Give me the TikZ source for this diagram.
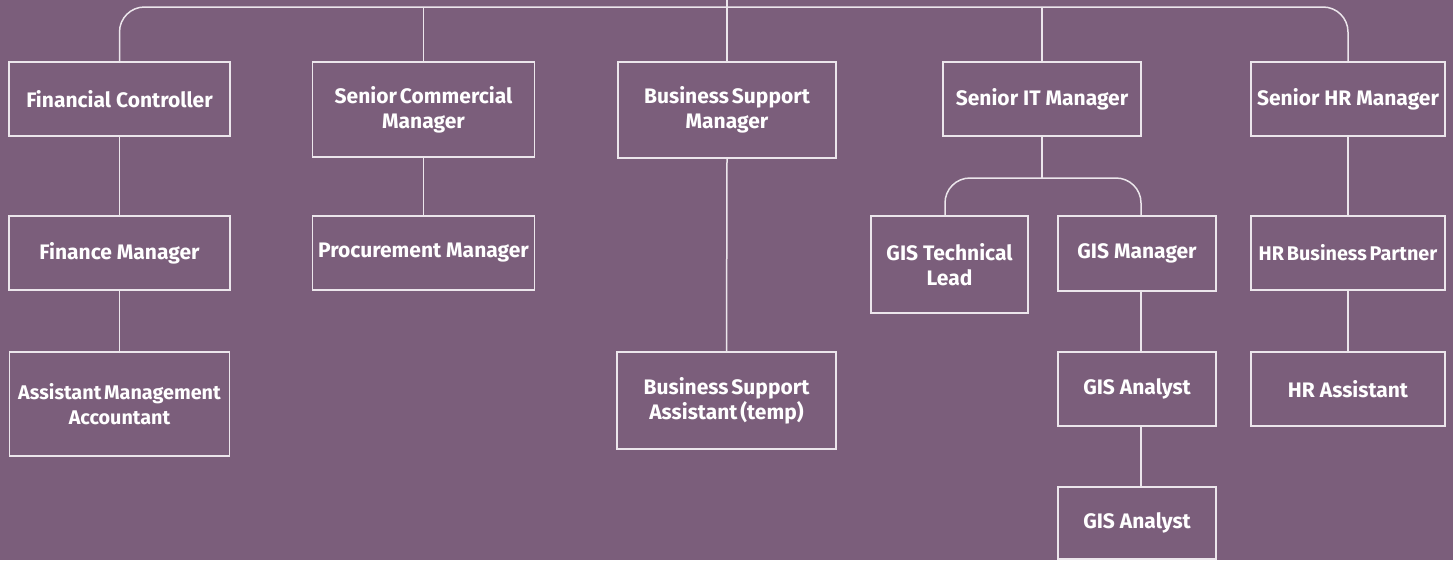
\documentclass[tikz,border=0pt]{standalone}
\usepackage{fontspec}
\setmainfont{Fira Sans}
\definecolor{bg}{RGB}{123,94,123}
\definecolor{ln}{RGB}{236,230,236}
\tikzset{
  orgbox/.style={draw=ln, line width=1.6pt, text=white, align=center,
    font=\fontsize{21}{25}\selectfont\bfseries, inner sep=0pt},
  tight/.style={execute at begin node={\spaceskip=0.14em plus 0.05em\relax}},
  narrow/.style={tight, font=\fontsize{19.8}{25}\selectfont\bfseries},
  conn/.style={draw=ln, line width=1.5pt},
}
\begin{document}
\begin{tikzpicture}[x=1pt,y=-1pt]
\fill[bg] (0,0) rectangle (1453,560);
\useasboundingbox (0,0) rectangle (1453,560);
% row 1
\node[orgbox, minimum width=221, minimum height=74] (fc) at (119.5,99) {Financial Controller};
\node[orgbox, tight, minimum width=222, minimum height=95] (scm) at (423.5,109.5) {Senior Commercial\\Manager};
\node[orgbox, tight, minimum width=218, minimum height=96] (bsm) at (727,110) {Business Support\\Manager};
\node[orgbox, minimum width=198, minimum height=74] (sit) at (1042,99) {Senior IT Manager};
\node[orgbox, minimum width=194, minimum height=74] (shr) at (1348,99) {Senior HR Manager};
% row 2
\node[orgbox, minimum width=221, minimum height=74] (fm) at (119.5,253) {Finance Manager};
\node[orgbox, minimum width=222, minimum height=74] (pm) at (423.5,253) {Procurement Manager};
\node[orgbox, minimum width=157, minimum height=97] (gtl) at (949.5,264.5) {GIS Technical\\Lead};
\node[orgbox, minimum width=158, minimum height=75] (gm) at (1137,253.5) {GIS Manager};
\node[orgbox, narrow, minimum width=194, minimum height=74] (hbp) at (1348,253) {HR Business Partner};
% row 3
\node[orgbox, narrow, minimum width=220, minimum height=104] (ama) at (119.5,404) {Assistant Management\\Accountant};
\node[orgbox, tight, minimum width=219, minimum height=97] (bsa) at (726.5,400.5) {Business Support\\Assistant (temp)};
\node[orgbox, minimum width=158, minimum height=74] (ga1) at (1137,389) {GIS Analyst};
\node[orgbox, minimum width=194, minimum height=74] (hra) at (1348,389) {HR Assistant};
% row 4
\node[orgbox, minimum width=158, minimum height=72] (ga2) at (1137,523) {GIS Analyst};
% helper coordinates
\coordinate (top) at (727,7);
\coordinate (topend) at (727,0);
\coordinate (itj) at (1041,178);
\coordinate (xl) at (945,0);
\coordinate (gx) at (1141,0);
% top bracket
\draw[conn, rounded corners=25pt] (fc.north) |- (top) -| (shr.north);
\draw[conn] (top) -- (topend);
\draw[conn] (scm.north) -- (scm.north |- top);
\draw[conn] (bsm.north) -- (bsm.north |- top);
\draw[conn] (sit.north) -- (sit.north |- top);
% verticals
\draw[conn] (fc.south) -- (fm.north);
\draw[conn] (fm.south) -- (ama.north);
\draw[conn] (scm.south) -- (pm.north);
\draw[conn] (bsm.south) -- (bsa.north);
\draw[conn] (shr.south) -- (hbp.north);
\draw[conn] (hbp.south) -- (hra.north);
% IT bracket
\draw[conn] (sit.south) -- (sit.south |- itj);
\draw[conn, rounded corners=25pt] (gtl.north -| xl) |- (itj) -| (gm.north -| gx);
\draw[conn] (gm.south -| gx) -- (ga1.north -| gx);
\draw[conn] (ga1.south -| gx) -- (ga2.north -| gx);
\end{tikzpicture}
\end{document}
